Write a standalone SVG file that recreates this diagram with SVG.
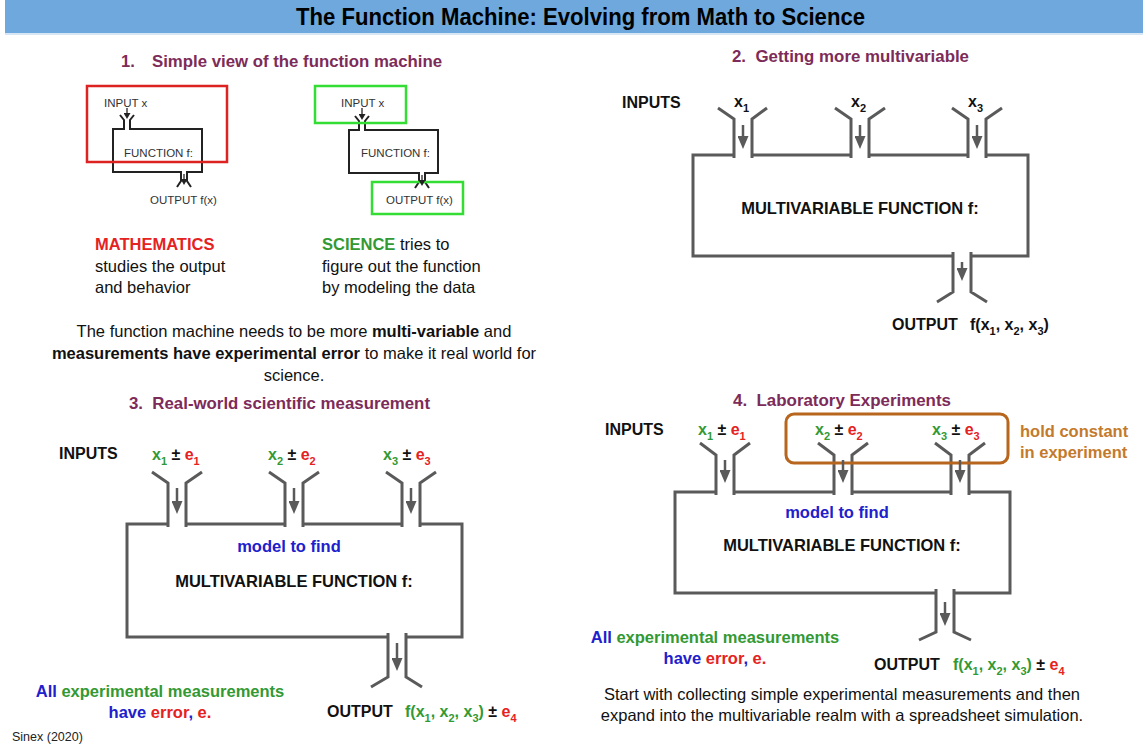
<svg xmlns="http://www.w3.org/2000/svg" width="1143" height="748" viewBox="0 0 1143 748">
<style>
text{font-family:"Liberation Sans",Arial,sans-serif;}
.ttl{font-size:23px;font-weight:bold;fill:#000;}
.sec{font-size:16.5px;font-weight:bold;fill:#7d2b59;}
.sm{font-size:11.5px;fill:#333;}
.body{font-size:16.5px;fill:#111;}
.b{font-weight:bold;}
.lb{font-size:16px;font-weight:bold;fill:#111;}
.big{font-size:16.5px;font-weight:bold;fill:#111;}
.s{font-size:11px;}
.g{fill:#339933;}
.r{fill:#e52222;}
.bl{fill:#2020cc;}
.o{fill:#c47a2c;}
.k{fill:#111;}
.mach{fill:none;stroke:#5a5a5a;stroke-width:3;stroke-linejoin:miter;}
.smach{fill:none;stroke:#222;stroke-width:2;}
.arr{stroke:#5a5a5a;stroke-width:2.5;marker-end:url(#ah);}
.sarr{stroke:#222;stroke-width:1.3;marker-end:url(#sah);}
</style>
<defs>
<marker id="ah" markerUnits="userSpaceOnUse" markerWidth="13" markerHeight="11" refX="4" refY="5.5" orient="auto"><path d="M0,0 L13,5.5 L0,11 z" fill="#5a5a5a"/></marker>
<marker id="sah" markerUnits="userSpaceOnUse" markerWidth="6" markerHeight="7" refX="2" refY="3.5" orient="auto"><path d="M0,0 L6,3.5 L0,7 z" fill="#222"/></marker>
</defs>
<rect width="1143" height="748" fill="#fff"/>
<g id="title">
<rect x="5" y="0" width="1138" height="33" fill="#6fa8dc"/>
<rect x="5" y="33" width="1138" height="2" fill="#d6e6f5"/>
<text class="ttl" x="296" y="25" textLength="569" lengthAdjust="spacingAndGlyphs">The Function Machine:  Evolving from Math to Science</text>
</g>

<g id="section1">
<text class="sec" x="121" y="67">1.</text>
<text class="sec" x="152" y="67" textLength="290" lengthAdjust="spacingAndGlyphs">Simple view of the function machine</text>
<g id="math-machine">
<path class="smach" d="M120,115 L124,120 L124,129 L113,129 L113,172 L181,172 L181,181 L177,187 M134,115 L130,120 L130,129 L202,129 L202,172 L187,172 L187,181 L191,187"/>
<text class="sm" x="104" y="107">INPUT x</text>
<text class="sm" x="124" y="157">FUNCTION f:</text>
<text class="sm" x="150" y="204">OUTPUT f(x)</text>
<rect x="87" y="86" width="140" height="76" fill="none" stroke="#dd2222" stroke-width="2.5"/>
</g>
<g id="science-machine">
<path class="smach" d="M355,116 L359,121 L359,130 L349,130 L349,173 L419,173 L419,182 L415,188 M369,116 L365,121 L365,130 L438,130 L438,173 L425,173 L425,182 L429,188"/>
<text class="sm" x="341" y="107">INPUT x</text>
<text class="sm" x="361" y="157">FUNCTION f:</text>
<text class="sm" x="386" y="204">OUTPUT f(x)</text>
<rect x="315" y="86" width="91" height="37" fill="none" stroke="#33dd33" stroke-width="2.5"/>
<rect x="372" y="182" width="91" height="32" fill="none" stroke="#33dd33" stroke-width="2.5"/>
</g>
<g id="math-note">
<text class="body" x="95" y="250"><tspan class="b r">MATHEMATICS</tspan></text>
<text class="body" x="95" y="272">studies the output</text>
<text class="body" x="95" y="293">and behavior</text>
</g>
<g id="science-note">
<text class="body" x="322" y="250"><tspan class="b g">SCIENCE</tspan> tries to</text>
<text class="body" x="322" y="272">figure out the function</text>
<text class="body" x="322" y="293">by modeling the data</text>
</g>
<g id="summary">
<text class="body" x="294" y="337" text-anchor="middle">The function machine needs to be more <tspan class="b">multi-variable</tspan> and</text>
<text class="body" x="294" y="359" text-anchor="middle"><tspan class="b">measurements have experimental error</tspan> to make it real world for</text>
<text class="body" x="294" y="381" text-anchor="middle">science.</text>
</g>
</g>

<g id="section2">
<text class="sec" x="732" y="62" textLength="237" lengthAdjust="spacingAndGlyphs" xml:space="preserve">2.  Getting more multivariable</text>
<g id="machine2">
<path class="mach" d="M718,108 L734,119 L734,158 M734,155 L693,155 L693,256 L953,256 M953,252 L953,292 L937,302 M752,158 L752,119 L767,108 M752,155 L851,155 M851,158 L851,119 L835,108 M869,158 L869,119 L885,108 M869,155 L968,155 M968,158 L968,119 L952,108 M986,158 L986,119 L1002,108 M986,155 L1028,155 L1028,256 L971,256 M971,252 L971,292 L987,302"/>
<text class="lb" x="622" y="108">INPUTS</text>
<text class="lb" x="734" y="107">x<tspan class="s" dy="5">1</tspan></text>
<text class="lb" x="851" y="107">x<tspan class="s" dy="5">2</tspan></text>
<text class="lb" x="968" y="107">x<tspan class="s" dy="5">3</tspan></text>
<text class="big" x="860" y="214" text-anchor="middle">MULTIVARIABLE FUNCTION f:</text>
<text class="lb" x="892" y="330">OUTPUT</text>
<text class="lb" x="970" y="330" xml:space="preserve">f(x<tspan class="s" dy="5">1</tspan><tspan dy="-5">, x</tspan><tspan class="s" dy="5">2</tspan><tspan dy="-5">, x</tspan><tspan class="s" dy="5">3</tspan><tspan dy="-5">)</tspan></text>
</g>
</g>

<g id="section3">
<text class="sec" x="129" y="409" textLength="301" lengthAdjust="spacingAndGlyphs" xml:space="preserve">3.  Real-world scientific measurement</text>
<g id="machine3">
<path class="mach" d="M152,472 L168,483 L168,527 M168,524 L127,524 L127,637 L388,637 M388,633 L388,677 L371,687 M186,527 L186,483 L202,472 M186,524 L285,524 M285,527 L285,483 L269,472 M303,527 L303,483 L319,472 M303,524 L402,524 M402,527 L402,483 L386,472 M420,527 L420,483 L436,472 M420,524 L462,524 L462,637 L406,637 M406,633 L406,677 L422,687"/>
<text class="lb" x="59" y="459">INPUTS</text>
<text class="lb" x="152" y="460" xml:space="preserve"><tspan class="g">x</tspan><tspan class="g s" dy="5">1</tspan><tspan dy="-5"> ± </tspan><tspan class="r">e</tspan><tspan class="r s" dy="5">1</tspan></text>
<text class="lb" x="268" y="460" xml:space="preserve"><tspan class="g">x</tspan><tspan class="g s" dy="5">2</tspan><tspan dy="-5"> ± </tspan><tspan class="r">e</tspan><tspan class="r s" dy="5">2</tspan></text>
<text class="lb" x="383" y="460" xml:space="preserve"><tspan class="g">x</tspan><tspan class="g s" dy="5">3</tspan><tspan dy="-5"> ± </tspan><tspan class="r">e</tspan><tspan class="r s" dy="5">3</tspan></text>
<text class="big bl" x="289" y="552" text-anchor="middle">model to find</text>
<text class="big" x="294" y="587" text-anchor="middle">MULTIVARIABLE FUNCTION f:</text>
<text class="lb" x="327" y="717">OUTPUT</text>
<text class="lb" x="405" y="717" xml:space="preserve"><tspan class="g">f(x</tspan><tspan class="g s" dy="5">1</tspan><tspan class="g" dy="-5">, x</tspan><tspan class="g s" dy="5">2</tspan><tspan class="g" dy="-5">, x</tspan><tspan class="g s" dy="5">3</tspan><tspan class="g" dy="-5">)</tspan> ± <tspan class="r">e</tspan><tspan class="r s" dy="5">4</tspan></text>
</g>
<g id="error-note3">
<text class="big" x="160" y="697" text-anchor="middle"><tspan class="bl">All</tspan> <tspan class="g">experimental measurements</tspan></text>
<text class="big" x="160" y="718" text-anchor="middle"><tspan class="bl">have</tspan> <tspan class="r">error</tspan><tspan class="bl">,</tspan> <tspan class="r">e.</tspan></text>
</g>
</g>

<g id="section4">
<text class="sec" x="733" y="406" textLength="218" lengthAdjust="spacingAndGlyphs" xml:space="preserve">4.  Laboratory Experiments</text>
<g id="machine4">
<path class="mach" d="M700,443 L716,455 L716,495 M716,492 L675,492 L675,593 L936,593 M936,589 L936,632 L919,640 M734,495 L734,455 L750,443 M734,492 L834,492 M834,495 L834,455 L818,443 M852,495 L852,455 L868,443 M852,492 L951,492 M951,495 L951,455 L935,443 M969,495 L969,455 L985,443 M969,492 L1010,492 L1010,593 L954,593 M954,589 L954,632 L971,640"/>
<text class="lb" x="605" y="435">INPUTS</text>
<text class="lb" x="698" y="435" xml:space="preserve"><tspan class="g">x</tspan><tspan class="g s" dy="5">1</tspan><tspan dy="-5"> ± </tspan><tspan class="r">e</tspan><tspan class="r s" dy="5">1</tspan></text>
<text class="lb" x="815" y="435" xml:space="preserve"><tspan class="g">x</tspan><tspan class="g s" dy="5">2</tspan><tspan dy="-5"> ± </tspan><tspan class="r">e</tspan><tspan class="r s" dy="5">2</tspan></text>
<text class="lb" x="932" y="435" xml:space="preserve"><tspan class="g">x</tspan><tspan class="g s" dy="5">3</tspan><tspan dy="-5"> ± </tspan><tspan class="r">e</tspan><tspan class="r s" dy="5">3</tspan></text>
<text class="big bl" x="837" y="518" text-anchor="middle">model to find</text>
<text class="big" x="842" y="551" text-anchor="middle">MULTIVARIABLE FUNCTION f:</text>
<text class="lb" x="874" y="670">OUTPUT</text>
<text class="lb" x="953" y="670" xml:space="preserve"><tspan class="g">f(x</tspan><tspan class="g s" dy="5">1</tspan><tspan class="g" dy="-5">, x</tspan><tspan class="g s" dy="5">2</tspan><tspan class="g" dy="-5">, x</tspan><tspan class="g s" dy="5">3</tspan><tspan class="g" dy="-5">)</tspan> ± <tspan class="r">e</tspan><tspan class="r s" dy="5">4</tspan></text>
</g>
<g id="hold-constant">
<rect x="786" y="414" width="222" height="49" rx="8" fill="none" stroke="#b8661e" stroke-width="3"/>
<text class="big o" x="1020" y="437">hold constant</text>
<text class="big o" x="1020" y="458">in experiment</text>
</g>
<g id="error-note4">
<text class="big" x="715" y="643" text-anchor="middle"><tspan class="bl">All</tspan> <tspan class="g">experimental measurements</tspan></text>
<text class="big" x="715" y="664" text-anchor="middle"><tspan class="bl">have</tspan> <tspan class="r">error</tspan><tspan class="bl">,</tspan> <tspan class="r">e.</tspan></text>
</g>
<g id="closing-note">
<text class="body" x="842" y="700" text-anchor="middle">Start with collecting simple experimental measurements and then</text>
<text class="body" x="842" y="721" text-anchor="middle">expand into the multivariable realm with a spreadsheet simulation.</text>
</g>
</g>

<g id="credit">
<text x="12" y="741" font-size="12.5" fill="#222">Sinex (2020)</text>
</g>

<g id="connectors">
<line class="sarr" x1="127" y1="108" x2="127" y2="115"/>
<line class="sarr" x1="184" y1="174" x2="184" y2="181"/>
<line class="sarr" x1="362" y1="108" x2="362" y2="116"/>
<line class="sarr" x1="422" y1="175" x2="422" y2="182"/>
<line class="arr" x1="743" y1="125" x2="743" y2="140"/>
<line class="arr" x1="860" y1="125" x2="860" y2="140"/>
<line class="arr" x1="977" y1="125" x2="977" y2="140"/>
<line class="arr" x1="962" y1="262" x2="962" y2="272"/>
<line class="arr" x1="177" y1="488" x2="177" y2="505"/>
<line class="arr" x1="294" y1="488" x2="294" y2="505"/>
<line class="arr" x1="411" y1="488" x2="411" y2="505"/>
<line class="arr" x1="397" y1="643" x2="397" y2="662"/>
<line class="arr" x1="725" y1="460" x2="725" y2="474"/>
<line class="arr" x1="843" y1="460" x2="843" y2="474"/>
<line class="arr" x1="960" y1="460" x2="960" y2="474"/>
<line class="arr" x1="945" y1="602" x2="945" y2="617"/>
</g>
</svg>
